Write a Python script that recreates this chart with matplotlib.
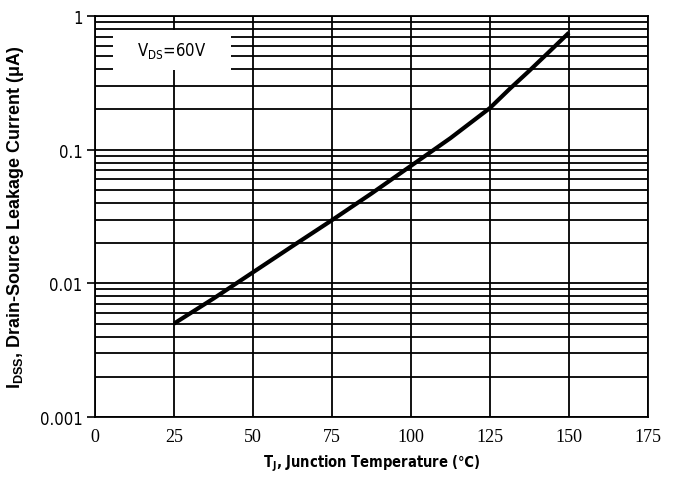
"""IDSS leakage current vs junction temperature."""

import matplotlib
matplotlib.use('Agg')
import matplotlib.pyplot as plt
from matplotlib.patches import Rectangle
from matplotlib.ticker import LogLocator, NullFormatter

# Data
temp_c = [25, 37.5, 50, 62.5, 75, 87.5, 100, 112.5, 125, 131.25, 137.5, 143.75, 150]
idss_ua = [0.005, 0.0077, 0.0121, 0.019, 0.0297, 0.047, 0.0757, 0.122, 0.205,
           0.285, 0.39, 0.54, 0.75]

x_ticks = [0, 25, 50, 75, 100, 125, 150, 175]
y_ticks = [0.001, 0.01, 0.1, 1]
y_tick_labels = ['0.001', '0.01', '0.1', '1']

narrow = ['DejaVu Sans']

fig = plt.figure(figsize=(6.76, 4.85), dpi=100)
ax = fig.add_axes([0.1405, 0.138, 0.818, 0.827])

ax.plot(temp_c, idss_ua, color='black', linewidth=3.0, solid_capstyle='butt', zorder=4)

ax.set_yscale('log')
ax.set_xlim(0, 175)
ax.set_ylim(0.001, 1)

ax.set_xticks(x_ticks)
ax.set_xticklabels([str(t) for t in x_ticks], family=['Liberation Serif', 'DejaVu Serif'],
                   fontsize=13)
ax.set_yticks(y_ticks)
ax.set_yticklabels(y_tick_labels, family=narrow, stretch='condensed', fontsize=12)
ax.yaxis.set_minor_locator(LogLocator(base=10, subs=range(2, 10)))
ax.yaxis.set_minor_formatter(NullFormatter())

ax.tick_params(axis='x', length=0, pad=8)
ax.tick_params(axis='y', which='major', length=6, width=1.2, pad=3)
ax.tick_params(axis='y', which='minor', length=0)

ax.set_axisbelow(True)
ax.grid(True, which='major', axis='both', color='black', linewidth=1.3)
ax.grid(True, which='minor', axis='y', color='black', linewidth=1.3)
for sp in ax.spines.values():
    sp.set_linewidth(1.3)

ax.set_xlabel('T$_\\mathregular{J}$, Junction Temperature (\u2103)', family=narrow,
              stretch='condensed', fontweight='bold', fontsize=10.5, labelpad=5)
ax.set_ylabel('I$_\\mathregular{DSS}$, Drain-Source Leakage Current (\u03bcA)',
              family=['Liberation Sans', 'DejaVu Sans'], fontweight='bold',
              fontsize=13, labelpad=10)

# condition box
ax.add_patch(Rectangle((0.033, 0.866), 0.213, 0.099, transform=ax.transAxes,
                       facecolor='white', edgecolor='none', zorder=3))
ax.text(0.139, 0.915, 'V$_\\mathregular{DS}$=60V', transform=ax.transAxes,
        ha='center', va='center', family=narrow, stretch='condensed', fontsize=12,
        zorder=5)

plt.savefig('out.png', dpi=100)
